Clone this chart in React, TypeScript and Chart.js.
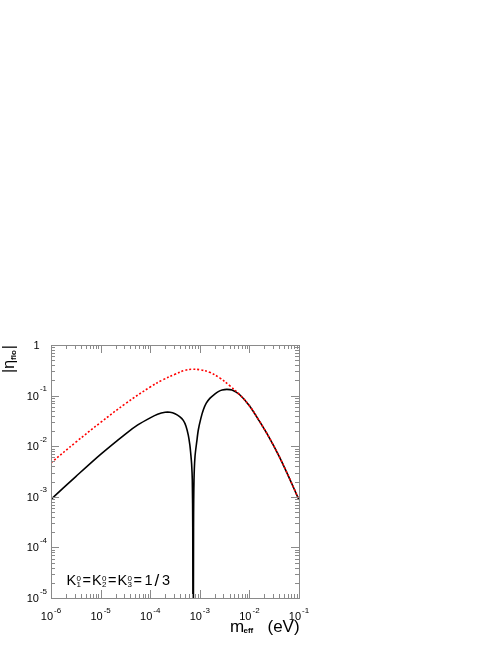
import React, { useEffect, useRef } from "react";
import { Chart, registerables } from "chart.js";

Chart.register(...registerables);

// m_eff values (eV) and |eta_flo| values
const solidMass = [
  1e-6, 3.16e-6, 1e-5, 3.16e-5, 5.62e-5, 1e-4, 1.41e-4, 2.0e-4, 2.51e-4, 3.16e-4,
  3.98e-4, 4.65e-4, 5.25e-4, 5.86e-4, 6.31e-4, 6.56e-4, 6.84e-4, 7.06e-4, 7.21e-4,
  7.35e-4, 7.48e-4, 7.64e-4, 8.0e-4, 8.71e-4, 9.33e-4, 1.05e-3, 1.18e-3, 1.35e-3,
  1.61e-3, 2.0e-3, 2.36e-3, 2.82e-3, 3.5e-3, 4.47e-3, 6.31e-3, 1e-2, 1.58e-2,
  2.51e-2, 3.98e-2, 6.31e-2, 1e-1,
];
const solidEta = [
  8.9e-4, 2.51e-3, 6.9e-3, 1.74e-2, 2.63e-2, 3.63e-2, 4.27e-2, 4.68e-2, 4.68e-2, 4.37e-2,
  3.8e-2, 3.24e-2, 2.51e-2, 1.66e-2, 1.05e-2, 7.2e-3, 4.47e-3, 2.14e-3, 2.5e-4,
  1e-8, 2.5e-4, 2.14e-3, 6.2e-3, 1.26e-2, 2.09e-2, 3.55e-2, 5.25e-2, 7.08e-2,
  8.9e-2, 0.107, 0.12, 0.129, 0.133, 0.129, 0.105, 6.3e-2, 3.16e-2,
  1.48e-2, 6.3e-3, 2.4e-3, 8.7e-4,
];
const dashedMass = [
  1e-6, 3.16e-6, 1e-5, 3.16e-5, 1e-4, 1.78e-4, 3.16e-4, 5.01e-4, 6.92e-4, 1e-3,
  1.58e-3, 2.51e-3, 3.98e-3, 6.31e-3, 1e-2, 1.58e-2, 2.51e-2, 3.98e-2, 6.31e-2, 1e-1,
];
const dashedEta = [
  4.68e-3, 1.2e-2, 2.95e-2, 6.92e-2, 0.148, 0.204, 0.263, 0.316, 0.331, 0.324,
  0.288, 0.224, 0.158, 0.105, 6.3e-2, 3.16e-2, 1.48e-2, 6.3e-3, 2.4e-3, 8.7e-4,
];
const xDecades = [-6, -5, -4, -3, -2, -1];
const yDecades = [-5, -4, -3, -2, -1, 0];

const FONT = "'Liberation Sans', Arial, Helvetica, sans-serif";

const rootAxes = {
  id: "rootAxes",
  afterDraw(chart: any) {
    const { ctx, chartArea: a, scales } = chart;
    const xs = scales.x;
    const ys = scales.y;
    ctx.save();
    ctx.strokeStyle = "#8a8a8a";
    ctx.lineWidth = 1;
    ctx.strokeRect(Math.round(a.left) + 0.5, Math.round(a.top) + 0.5, Math.round(a.right - a.left), Math.round(a.bottom - a.top));

    // ticks on all four sides
    ctx.beginPath();
    xDecades.forEach((d) => {
      for (let k = 1; k <= 9; k++) {
        const v = k * Math.pow(10, d);
        if (v > xs.max * 1.0001) break;
        const px = Math.round(xs.getPixelForValue(v)) + 0.5;
        const len = k === 1 ? 8 : 4;
        ctx.moveTo(px, a.bottom);
        ctx.lineTo(px, a.bottom - len);
        ctx.moveTo(px, a.top);
        ctx.lineTo(px, a.top + len);
      }
    });
    yDecades.forEach((d) => {
      for (let k = 1; k <= 9; k++) {
        const v = k * Math.pow(10, d);
        if (v > ys.max * 1.0001) break;
        const py = Math.round(ys.getPixelForValue(v)) + 0.5;
        const len = k === 1 ? 8 : 4;
        ctx.moveTo(a.left, py);
        ctx.lineTo(a.left + len, py);
        ctx.moveTo(a.right, py);
        ctx.lineTo(a.right - len, py);
      }
    });
    ctx.stroke();

    // tick labels
    ctx.fillStyle = "#000";
    ctx.textBaseline = "alphabetic";
    const base = "11px " + FONT;
    const sup = "8px " + FONT;
    xDecades.forEach((d) => {
      const px = xs.getPixelForValue(Math.pow(10, d));
      ctx.font = base;
      const w1 = ctx.measureText("10").width;
      ctx.font = sup;
      const s = String(d);
      const w2 = ctx.measureText(s).width + 1;
      const x0 = px - (w1 + w2) / 2;
      ctx.font = base;
      ctx.textAlign = "left";
      ctx.fillText("10", x0, 619.5);
      ctx.font = sup;
      ctx.fillText(s, x0 + w1 + 1, 613);
    });
    yDecades.forEach((d) => {
      const py = ys.getPixelForValue(Math.pow(10, d));
      ctx.textAlign = "left";
      if (d === 0) {
        ctx.font = base;
        ctx.textAlign = "right";
        ctx.fillText("1", 39.5, py + 4);
        return;
      }
      ctx.font = sup;
      const s = String(d);
      const w2 = ctx.measureText(s).width;
      ctx.font = base;
      const w1 = ctx.measureText("10").width;
      const right = 47;
      const x0 = right - w2 - 1 - w1;
      ctx.fillText("10", x0, py + 4);
      ctx.font = sup;
      ctx.fillText(s, x0 + w1 + 1, py - 4.5);
    });

    // x axis title: m_eff (eV)
    ctx.textAlign = "left";
    ctx.font = "17px " + FONT;
    ctx.fillText("m", 230, 631.5);
    ctx.font = "bold 8px " + FONT;
    ctx.fillText("eff", 243.5, 633);
    ctx.font = "17px " + FONT;
    ctx.fillText("(eV)", 267.5, 631.5);

    // y axis title: |eta_flo|
    ctx.save();
    ctx.translate(15, 345);
    ctx.rotate(-Math.PI / 2);
    ctx.textAlign = "left";
    ctx.font = "16px " + FONT;
    const bar = ctx.measureText("|").width;
    const etaW = ctx.measureText("η").width;
    ctx.font = "bold 8px " + FONT;
    const floW = ctx.measureText("flo").width;
    const total = bar + etaW + floW + 1 + bar;
    let cx = -total;
    ctx.font = "16px " + FONT;
    ctx.fillText("|", cx, -1);
    cx += bar;
    ctx.fillText("η", cx, -1);
    cx += etaW;
    ctx.font = "bold 8px " + FONT;
    ctx.fillText("flo", cx, 1);
    cx += floW + 1;
    ctx.font = "16px " + FONT;
    ctx.fillText("|", cx, -1);
    ctx.restore();

    // annotation K1^0=K2^0=K3^0=1/3
    const by = 585;
    const big = "14.5px " + FONT;
    const small = "8px " + FONT;
    const units = [66.5, 92, 117.5];
    ["1", "2", "3"].forEach((n, i) => {
      const x0 = units[i];
      ctx.font = big;
      ctx.fillText("K", x0, by);
      ctx.font = small;
      ctx.fillText("0", x0 + 10, by - 4.5);
      ctx.fillText(n, x0 + 10, by + 1.5);
      ctx.font = big;
      ctx.fillText("=", x0 + 16, by);
    });
    ctx.font = big;
    ctx.fillText("1", 144.5, by);
    ctx.font = "17px " + FONT;
    ctx.fillText("/", 154.5, by + 0.5);
    ctx.font = big;
    ctx.fillText("3", 162, by);

    ctx.restore();
  },
};

export default function App() {
  const ref = useRef<HTMLCanvasElement | null>(null);
  useEffect(() => {
    if (!ref.current) return;
    const chart = new Chart(ref.current, {
      type: "line",
      data: {
        datasets: [
          {
            label: "dashed",
            data: dashedMass.map((m, i) => ({ x: m, y: dashedEta[i] })),
            borderColor: "#ff0000",
            borderWidth: 1.6,
            borderDash: [2, 2],
            pointRadius: 0,
            tension: 0.4,
            fill: false,
          },
          {
            label: "solid",
            data: solidMass.map((m, i) => ({ x: m, y: solidEta[i] })),
            borderColor: "#000000",
            borderWidth: 1.6,
            pointRadius: 0,
            tension: 0.3,
            fill: false,
          },
        ],
      },
      options: {
        animation: false,
        responsive: false,
        layout: { padding: { left: 51, top: 345, right: 199, bottom: 47 } },
        plugins: { legend: { display: false }, tooltip: { enabled: false } },
        scales: {
          x: { type: "logarithmic", min: 1e-6, max: 1e-1, display: false },
          y: { type: "logarithmic", min: 1e-5, max: 1, display: false },
        },
      },
      plugins: [rootAxes],
    });
    return () => chart.destroy();
  }, []);
  return (
    <div style={{ position: "absolute", left: 0, top: 0, width: 498, height: 645, background: "#fff" }}>
      <canvas ref={ref} width={498} height={645} style={{ width: 498, height: 645, display: "block" }} />
    </div>
  );
}
